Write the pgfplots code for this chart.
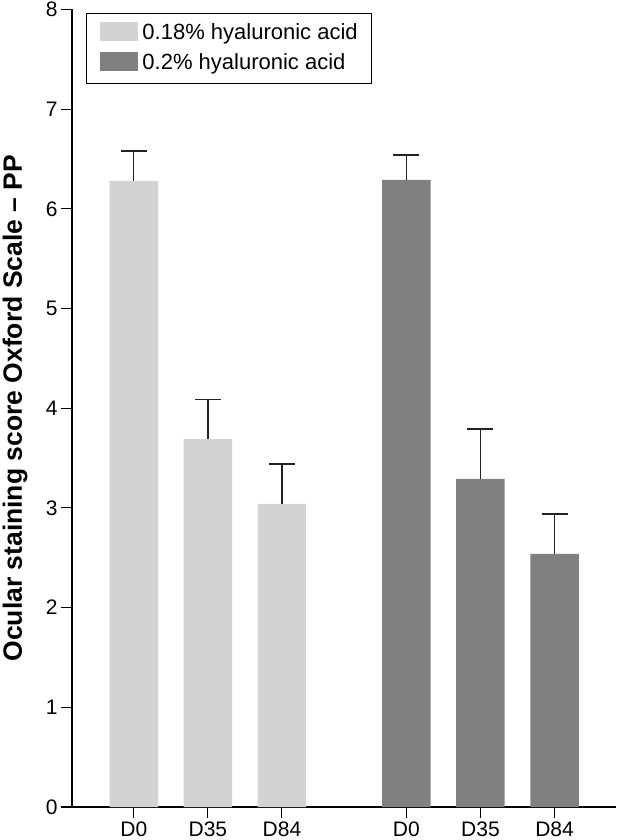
\documentclass[border=0pt]{standalone}
\usepackage{pgfplots}
\pgfplotsset{compat=1.18}
\usepackage{fontspec}
\setmainfont{Liberation Sans}
\usetikzlibrary{calc}

\definecolor{lightbar}{HTML}{D3D3D3}
\definecolor{darkbar}{HTML}{808080}
\definecolor{errcol}{HTML}{222222}

% treatment groups: x position, mean, error (upper)
\pgfplotstableread{
x     y     err
0     6.28  0.30
1     3.69  0.40
2     3.04  0.40
}\lowdose
\pgfplotstableread{
x     y     err
3.68  6.29  0.25
4.68  3.29  0.50
5.68  2.54  0.40
}\highdose

\newcommand{\swatch}[1]{\textcolor{#1}{\rule[-1pt]{38pt}{19pt}}\hspace{4pt}}

\begin{document}
\begin{tikzpicture}
\begin{axis}[
    scale only axis,
    width=544pt,
    height=797.6pt,
    xmin=-0.834, xmax=6.51,
    ymin=0, ymax=8,
    ytick={0,1,...,8},
    xtick={0,1,2,3.68,4.68,5.68},
    xticklabels={D0,D35,D84,D0,D35,D84},
    axis x line*=bottom,
    axis y line*=left,
    axis line style={line width=1.3pt},
    tick align=outside,
    major tick length=11pt,
    tick style={black, line width=1.1pt},
    tick label style={font=\fontsize{21}{25}\selectfont},
    /pgf/number format/assume math mode=true,
    every axis y label/.style={at={(axis description cs:-0.1048,0.5)},anchor=center,rotate=90},
    ylabel={\fontsize{26.5}{32}\selectfont\bfseries Ocular staining score Oxford Scale -- PP},
    legend style={
        at={(axis description cs:0.0257,0.995)}, anchor=north west,
        draw=black, line width=1pt,
        font=\fontsize{22}{26}\selectfont,
        inner xsep=14pt, inner ysep=8pt, row sep=6pt,
        nodes={inner sep=0pt, text height=18pt, text depth=6pt},
    },
    legend cell align=left,
]
\addplot[ybar, bar width=0.655, bar shift=0pt, fill=lightbar, draw=none, forget plot,
    error bars/.cd, y dir=plus, y explicit,
    error bar style={line width=1.3pt, errcol},
    error mark options={rotate=90, mark size=13pt, line width=1.3pt, errcol}]
    table[x=x, y=y, y error=err] {\lowdose};
\addplot[ybar, bar width=0.655, bar shift=0pt, fill=darkbar, draw=none, forget plot,
    error bars/.cd, y dir=plus, y explicit,
    error bar style={line width=1.3pt, errcol},
    error mark options={rotate=90, mark size=13pt, line width=1.3pt, errcol}]
    table[x=x, y=y, y error=err] {\highdose};
\addlegendimage{legend image code/.code={}}
\addlegendentry{\swatch{lightbar}0.18\% hyaluronic acid}
\addlegendimage{legend image code/.code={}}
\addlegendentry{\swatch{darkbar}0.2\% hyaluronic acid}
\end{axis}
\pgfresetboundingbox
\path[use as bounding box] ($(current axis.south west)+(-72pt,-33pt)$) rectangle ($(current axis.north east)+(0pt,9.4pt)$);
\end{tikzpicture}
\end{document}
